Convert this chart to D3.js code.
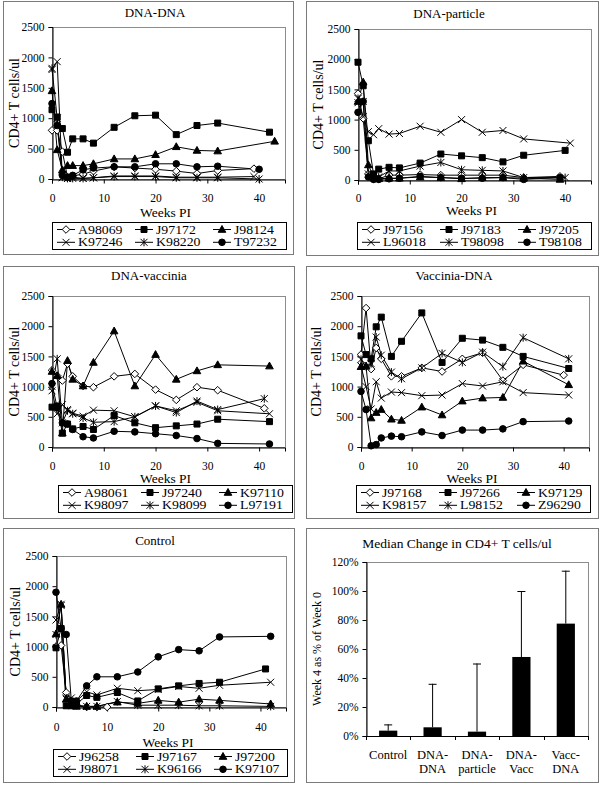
<!DOCTYPE html>
<html><head><meta charset="utf-8">
<script src="https://cdn.jsdelivr.net/npm/d3@7"></script>
<style>
body{margin:0;background:#fff}
svg text{font-family:"Liberation Serif","Times New Roman",serif;fill:#000}
</style>
</head><body>
<svg id="c" width="600" height="785"></svg>
<script>
// ---------------- DATA ----------------
const yTicks = [0, 500, 1000, 1500, 2000, 2500];
const xTicks = [0, 10, 20, 30, 40];
const markerTypes = ["diamond", "square", "triangle", "x", "asterisk", "circle"];

// DNA-DNA
const dnaDnaNames = ["A98069", "J97172", "J98124", "K97246", "K98220", "T97232"];
const dnaDnaWeeks = [
  [0,1,2,3,4,6,8,12,16,20,24,28,32,39],
  [0,1,2,3,4,6,8,12,16,20,24,28,32,42],
  [0,1,2,3,4,6,8,12,16,20,24,28,32,43],
  [0,1,2,3,4,6,8,12,16,20,24,28,32,39],
  [0,1,2,3,4,6,8,12,16,20,24,28,32,40],
  [0,1,2,3,4,6,8,12,16,20,24,28,32,40]
];
const dnaDnaValues = [
  [800, 800, 450, 30, 50, 80, 130, 200, 180, 160, 130, 90, 140, 170],
  [1140, 1020, 830, 440, 660, 660, 590, 850, 1040, 1050, 730, 880, 920, 770],
  [1450, 480, 150, 220, 220, 220, 250, 330, 330, 400, 530, 470, 460, 620],
  [1800, 1930, 20, 10, 30, 10, 20, 50, 50, 50, 30, 30, 30, 40],
  [1820, 1000, 30, 10, 10, 10, 20, 40, 40, 40, 20, 20, 20, 0],
  [1240, 880, 60, 30, 60, 150, 180, 200, 200, 250, 250, 200, 210, 160]
];

// DNA-particle
const dnaPartNames = ["J97156", "J97183", "J97205", "L96018", "T98098", "T98108"];
const dnaPartWeeks = [
  [0,1,2,3,4,6,8,12,16,20,24,28,32,39],
  [0,1,2,3,4,6,8,12,16,20,24,28,32,40],
  [0,1,2,3,4,6,8,12,16,20,24,28,32,39],
  [0,1,2,3,4,6,8,12,16,20,24,28,32,41],
  [0,1,2,3,4,6,8,12,16,20,24,28,32,40],
  [0,1,2,3,4,6,8,12,16,20,24,28,32,39]
];
const dnaPartValues = [
  [1430, 1020, 100, 20, 20, 80, 80, 90, 80, 80, 80, 80, 40, 60],
  [1950, 1560, 650, 100, 180, 210, 200, 280, 430, 400, 370, 300, 410, 490],
  [1300, 1620, 250, 50, 20, 30, 30, 50, 40, 20, 40, 40, 30, 10],
  [1280, 1050, 800, 750, 850, 760, 770, 890, 790, 1000, 790, 820, 680, 610],
  [1350, 1300, 100, 50, 50, 150, 150, 230, 290, 170, 160, 150, 40, 40],
  [1120, 1300, 50, 10, 10, 20, 30, 60, 40, 30, 30, 40, 10, 40]
];

// DNA-vaccinia
const dnaVacNames = ["A98061", "J97240", "K97110", "K98097", "K98099", "L97191"];
const dnaVacWeeks = [
  [0,1,2,3,4,6,8,12,16,20,24,28,32,41],
  [0,1,2,3,4,6,8,12,16,20,24,28,32,42],
  [0,1,2,3,4,6,8,12,16,20,24,28,32,42],
  [0,1,2,3,4,6,8,12,16,20,24,28,32,42],
  [0,1,2,3,4,6,8,12,16,20,24,28,32,41],
  [0,1,2,3,4,6,8,12,16,20,24,28,32,42]
];
const dnaVacValues = [
  [1270, 1180, 1100, 1380, 1170, 1010, 990, 1170, 1210, 950, 780, 990, 940, 640],
  [660, 680, 230, 380, 300, 340, 290, 520, 400, 320, 350, 380, 460, 420],
  [1250, 1180, 230, 1430, 1120, 1010, 1400, 1920, 1010, 1530, 1120, 1260, 1360, 1340],
  [930, 550, 700, 620, 560, 510, 610, 600, 500, 680, 600, 740, 600, 550],
  [1000, 1460, 400, 600, 550, 480, 410, 420, 500, 680, 570, 760, 620, 800],
  [1050, 650, 400, 380, 290, 170, 150, 260, 250, 220, 190, 140, 60, 50]
];

// Vaccinia-DNA
const vacDnaNames = ["J97168", "J97266", "K97129", "K98157", "L98152", "Z96290"];
const vacDnaWeeks = [
  [0,1,2,3,4,6,8,12,16,20,24,28,32,40],
  [0,1,2,3,4,6,8,12,16,20,24,28,32,41],
  [0,1,2,3,4,6,8,12,16,20,24,28,32,41],
  [0,1,2,3,4,6,8,12,16,20,24,28,32,41],
  [0,1,2,3,4,6,8,12,16,20,24,28,32,41],
  [0,1,2,3,4,6,8,12,16,20,24,28,32,41]
];
const vacDnaValues = [
  [1530, 2300, 1290, 1640, 1460, 1170, 1170, 1310, 1250, 1460, 1560, 1100, 1360, 1190],
  [1840, 1530, 1460, 1990, 2150, 1500, 1750, 2220, 1400, 1800, 1770, 1650, 1500, 1300],
  [1330, 1340, 480, 570, 620, 460, 440, 660, 530, 760, 810, 820, 1420, 1030],
  [1340, 1000, 630, 1080, 810, 910, 900, 850, 860, 1050, 1010, 1080, 900, 860],
  [1450, 1330, 1380, 1820, 1520, 1240, 1130, 1310, 1550, 1400, 1570, 1330, 1810, 1460],
  [920, 620, 20, 40, 150, 180, 170, 250, 190, 280, 280, 300, 420, 430]
];

// Control
const controlNames = ["J96258", "J97167", "J97200", "J98071", "K96166", "K97107"];
const controlWeeks = [
  [0,1,2,3,4,6,8,10],
  [0,1,2,3,4,6,8,12,16,20,24,28,32,41],
  [0,1,2,3,4,6,8,12,16,20,24,28,32,42],
  [0,1,2,3,4,6,8,12,16,20,24,28,32,42],
  [0,1,2,3,4,6,8,12,16,20,24,28,32,42],
  [0,1,2,3,4,6,8,12,16,20,24,28,32,42]
];
const controlValues = [
  [1000, 1020, 240, 100, 30, 0, 0, 0],
  [980, 1300, 20, 20, 50, 190, 160, 240, 100, 300, 350, 390, 410, 630],
  [1210, 1700, 130, 50, 10, 10, 10, 80, 60, 110, 80, 130, 110, 50],
  [1440, 1700, 130, 150, 100, 250, 200, 310, 270, 290, 340, 310, 360, 410],
  [1200, 1680, 150, 50, 30, 10, 10, 90, 30, 30, 30, 20, 20, 10],
  [1900, 1300, 1200, 100, 100, 350, 500, 500, 580, 830, 950, 930, 1160, 1170]
];

// Median change bar chart
const barCategories = ["Control", "DNA-DNA", "DNA-particle", "DNA-Vacc", "Vacc-DNA"];
const barLabelLines = [["Control"], ["DNA-", "DNA"], ["DNA-", "particle"], ["DNA-", "Vacc"], ["Vacc-", "DNA"]];
const barMedians = [0.037, 0.06, 0.03, 0.545, 0.775];
const barErrorTops = [0.08, 0.36, 0.50, 1.00, 1.14];
const barTicks = [0, 0.2, 0.4, 0.6, 0.8, 1.0, 1.2];

// ---------------- DRAWING ----------------
const svg = d3.select("#c");
const FONT = 11.5;

function markerPath(type) {
  switch (type) {
    case "diamond": return "M0,-3.8L3.8,0L0,3.8L-3.8,0Z";
    case "square": return "M-3,-3H3V3H-3Z";
    case "triangle": return "M0,-4L3.8,2.8H-3.8Z";
    case "x": return "M-3.5,-3.5L3.5,3.5M-3.5,3.5L3.5,-3.5";
    case "asterisk": return "M-3.5,-3.5L3.5,3.5M-3.5,3.5L3.5,-3.5M0,-4V4";
    case "circle": return d3.symbol(d3.symbolCircle, 34)();
  }
}
function drawMarker(g, type, x, y) {
  const filled = type === "square" || type === "triangle" || type === "circle";
  g.append("path").attr("d", markerPath(type))
    .attr("transform", `translate(${x},${y})`)
    .attr("fill", type === "diamond" ? "#fff" : (filled ? "#000" : "none"))
    .attr("stroke", "#000").attr("stroke-width", 1);
}
function stretch(sel, k) {
  sel.each(function () {
    const w = this.getComputedTextLength();
    if (w > 0) d3.select(this).attr("textLength", (w * k).toFixed(1)).attr("lengthAdjust", "spacingAndGlyphs");
  });
}

function panelBox(b) {
  svg.append("rect").attr("x", b[0] + 0.5).attr("y", b[1] + 0.5)
    .attr("width", b[2] - b[0]).attr("height", b[3] - b[1])
    .attr("fill", "none").attr("stroke", "#7a7a7a").attr("stroke-width", 1);
}

function linePanel(p) {
  panelBox(p.box);
  const [l, t, r, b] = p.plot;
  const x = d3.scaleLinear().domain([0, 45]).range([l, r]);
  const y = d3.scaleLinear().domain([0, 2500]).range([b, t]);
  const g = svg.append("g");
  g.append("rect").attr("x", l + 0.5).attr("y", t + 0.5).attr("width", r - l).attr("height", b - t)
    .attr("fill", "none").attr("stroke", "#8c8c8c");
  const ya = g.append("g").attr("transform", `translate(${l + 0.5},0)`)
    .call(d3.axisLeft(y).tickValues(yTicks).tickSize(4).tickPadding(4).tickFormat(d3.format("d")));
  const xa = g.append("g").attr("transform", `translate(0,${b + 0.5})`)
    .call(d3.axisBottom(x).tickValues(xTicks).tickSize(4).tickPadding(p.tickPad));
  [ya, xa].forEach(a => {
    a.select(".domain").attr("stroke", "#000");
    a.selectAll("line").attr("stroke", "#000");
    a.selectAll("text").attr("font-size", FONT).attr("font-family", null);
  });
  g.append("text").attr("x", p.titleX).attr("y", p.titleY).attr("text-anchor", "middle")
    .attr("font-size", 13).text(p.title);
  g.append("text").attr("transform", `translate(${p.yTitleX},${(t + b) / 2}) rotate(-90)`)
    .attr("text-anchor", "middle").attr("font-size", 14).text("CD4+ T cells/ul");
  g.append("text").attr("x", (l + r) / 2 - 3).attr("y", p.wpiY).attr("text-anchor", "middle")
    .attr("font-size", 13.5).text("Weeks PI");
  const line = d3.line().x(d => x(d[0])).y(d => y(d[1]));
  p.values.forEach((vals, i) => {
    const pts = vals.map((v, j) => [p.weeks[i][j], v]);
    g.append("path").attr("d", line(pts)).attr("fill", "none").attr("stroke", "#000").attr("stroke-width", 1);
  });
  p.values.forEach((vals, i) => {
    vals.forEach((v, j) => drawMarker(g, markerTypes[i], x(p.weeks[i][j]), y(v)));
  });
  // legend
  const [lx, ly] = p.legend;
  const lg = svg.append("g");
  lg.append("rect").attr("x", lx + 0.5).attr("y", ly + 0.5).attr("width", 234).attr("height", 27)
    .attr("fill", "#fff").attr("stroke", "#000");
  p.names.forEach((n, i) => {
    const cx = lx + 5 + (i % 3) * 78;
    const cy = ly + 7.5 + Math.floor(i / 3) * 12.8;
    lg.append("line").attr("x1", cx).attr("x2", cx + 18).attr("y1", cy).attr("y2", cy).attr("stroke", "#000");
    drawMarker(lg, markerTypes[i], cx + 9, cy);
    const tx = lg.append("text").attr("x", cx + 21).attr("y", cy + 4).attr("font-size", 11.5).text(n);
    stretch(tx, 1.2);
  });
}

linePanel({ box: [3, 1, 293, 254], plot: [52, 27, 285, 179], title: "DNA-DNA", titleX: 155, titleY: 16.5,
  yTitleX: 19, wpiY: 217, tickPad: 10, legend: [52, 222],
  names: dnaDnaNames, weeks: dnaDnaWeeks, values: dnaDnaValues });
linePanel({ box: [306, 1, 598, 255], plot: [358, 29, 591, 180], title: "DNA-particle", titleX: 449, titleY: 17.5,
  yTitleX: 323, wpiY: 215, tickPad: 9, legend: [357, 222],
  names: dnaPartNames, weeks: dnaPartWeeks, values: dnaPartValues });
linePanel({ box: [3, 266, 294, 518], plot: [52, 296, 285, 447], title: "DNA-vaccinia", titleX: 149, titleY: 279.5,
  yTitleX: 19, wpiY: 482.5, tickPad: 10, legend: [58, 485],
  names: dnaVacNames, weeks: dnaVacWeeks, values: dnaVacValues });
linePanel({ box: [306, 266, 598, 518], plot: [361, 296, 589, 447], title: "Vaccinia-DNA", titleX: 454, titleY: 279.5,
  yTitleX: 321, wpiY: 482.5, tickPad: 10, legend: [356, 485],
  names: vacDnaNames, weeks: vacDnaWeeks, values: vacDnaValues });
linePanel({ box: [3, 528, 294, 782], plot: [56, 556, 286, 707], title: "Control", titleX: 155, titleY: 544.5,
  yTitleX: 20, wpiY: 746.5, tickPad: 11, legend: [53, 749],
  names: controlNames, weeks: controlWeeks, values: controlValues });

// Bar panel
(function () {
  panelBox([306, 528, 598, 782]);
  const l = 366, r = 588, t = 562, b = 736;
  const x = d3.scaleBand().domain(barCategories).range([l, r]).paddingInner(0.59).paddingOuter(0.295);
  const y = d3.scaleLinear().domain([0, 1.2]).range([b, t]);
  const g = svg.append("g");
  g.append("rect").attr("x", l + 0.5).attr("y", t + 0.5).attr("width", r - l).attr("height", b - t)
    .attr("fill", "none").attr("stroke", "#8c8c8c");
  const ya = g.append("g").attr("transform", `translate(${l + 0.5},0)`)
    .call(d3.axisLeft(y).tickValues(barTicks).tickSize(4).tickPadding(4).tickFormat(d3.format(".0%")));
  ya.select(".domain").attr("stroke", "#000");
  ya.selectAll("line").attr("stroke", "#000");
  ya.selectAll("text").attr("font-size", FONT).attr("font-family", null);
  g.append("line").attr("x1", l).attr("x2", r).attr("y1", b + 0.5).attr("y2", b + 0.5).attr("stroke", "#000");
  const step = x.step();
  const edges = barCategories.map(c => x(c) + x.bandwidth() / 2 - step / 2).concat([r]);
  edges.forEach(e => g.append("line").attr("x1", Math.round(e) + 0.5).attr("x2", Math.round(e) + 0.5)
    .attr("y1", b).attr("y2", b + 4).attr("stroke", "#000"));
  barCategories.forEach((c, i) => {
    const cx = x(c) + x.bandwidth() / 2;
    g.append("line").attr("x1", cx).attr("x2", cx).attr("y1", y(barMedians[i])).attr("y2", y(barErrorTops[i]))
      .attr("stroke", "#000");
    g.append("line").attr("x1", cx - 4).attr("x2", cx + 4).attr("y1", y(barErrorTops[i]) + 0.5)
      .attr("y2", y(barErrorTops[i]) + 0.5).attr("stroke", "#000");
    g.append("rect").attr("x", x(c)).attr("y", y(barMedians[i])).attr("width", x.bandwidth())
      .attr("height", b - y(barMedians[i])).attr("fill", "#000");
    barLabelLines[i].forEach((s, k) => {
      g.append("text").attr("x", cx).attr("y", b + 23 + k * 14).attr("text-anchor", "middle")
        .attr("font-size", 12.5).text(s);
    });
  });
  g.append("text").attr("x", 457).attr("y", 547.5).attr("text-anchor", "middle").attr("font-size", 13.5)
    .text("Median Change in CD4+ T cells/ul");
  g.append("text").attr("transform", `translate(321,${(t + b) / 2}) rotate(-90)`)
    .attr("text-anchor", "middle").attr("font-size", 12).text("Week 4 as % of Week 0");
})();
</script>
</body></html>
